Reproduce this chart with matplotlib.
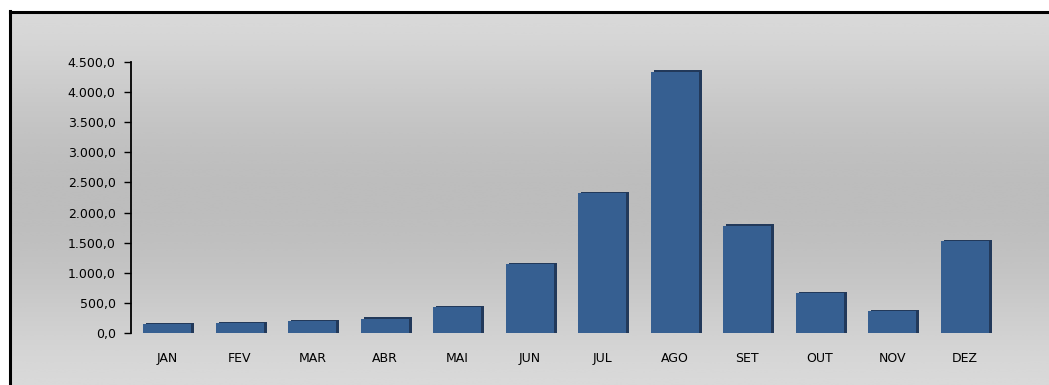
import matplotlib.pyplot as plt
import numpy as np
from matplotlib.ticker import FuncFormatter

months = ["JAN", "FEV", "MAR", "ABR", "MAI", "JUN",
          "JUL", "AGO", "SET", "OUT", "NOV", "DEZ"]
values = [170, 190, 220, 260, 445, 1165, 2345, 4360, 1805, 685, 385, 1545]

W, H = 1049, 385
fig = plt.figure(figsize=(W / 100, H / 100), dpi=100)
fig.patch.set_facecolor("white")

# gray gradient panel behind the chart
bg = fig.add_axes([0, 0, 1, 1])
bg.set_xlim(0, W)
bg.set_ylim(H, 0)
bg.axis("off")
rows = np.linspace(0, 1, 200)
shade = 0.85 - 0.11 * np.sin(rows * np.pi) ** 1.5
grad = np.repeat(shade[:, None], 2, axis=1)
bg.imshow(grad, cmap="gray", vmin=0, vmax=1, aspect="auto",
          extent=[10, W, H, 11], interpolation="bicubic")
bg.plot([10, W], [11.5, 11.5], color="black", lw=2.2)
bg.plot([10, 10], [11, H], color="black", lw=2.2)

# chart axes in pixel-based figure fractions
x0, x1 = 131, 1001
y0, y1 = 333, 62
ax = fig.add_axes([x0 / W, 1 - y0 / H, (x1 - x0) / W, (y0 - y1) / H])
ax.patch.set_alpha(0)

x = np.arange(len(months))
width = 0.66
# dark edge to give the bars a slight depth
ax.bar(x + 0.04, values, width, color="#22395a", zorder=2)
ax.bar(x, [v - 20 for v in values], width, color="#365f91", zorder=3)

ax.set_xlim(-0.5, len(months) - 0.5)
ax.set_ylim(0, 4500)
ax.set_yticks(np.arange(0, 4501, 500))
ax.yaxis.set_major_formatter(FuncFormatter(
    lambda v, p: f"{v:,.1f}".replace(",", "X").replace(".", ",").replace("X", ".")))
ax.set_xticks(x, months)

for s in ["top", "right", "bottom"]:
    ax.spines[s].set_visible(False)
ax.spines["left"].set_linewidth(1.3)
ax.tick_params(axis="y", length=5, width=1, labelsize=9, pad=6)
ax.tick_params(axis="x", length=0, labelsize=9, pad=14)

fig.savefig("out.png", dpi=100)
